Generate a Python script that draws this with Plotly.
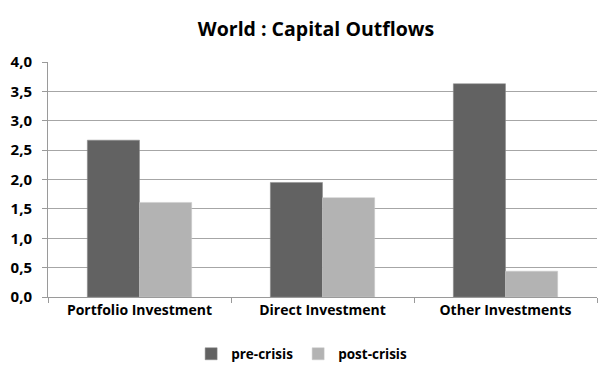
import plotly.graph_objects as go

categories = ["Portfolio Investment", "Direct Investment", "Other Investments"]
pre_crisis = [2.67, 1.95, 3.63]
post_crisis = [1.61, 1.69, 0.44]
tick_vals = [0, 0.5, 1.0, 1.5, 2.0, 2.5, 3.0, 3.5, 4.0]
tick_text = ["0,0", "0,5", "1,0", "1,5", "2,0", "2,5", "3,0", "3,5", "4,0"]

font_family = "Open Sans, Liberation Sans, Arial, sans-serif"

# The page body adds an 8px offset; margins compensate for it.
W, H = 616, 380
fig = go.Figure()
fig.add_trace(go.Bar(name="pre-crisis", x=categories, y=pre_crisis,
                     marker=dict(color="#626262", line=dict(color="#8a8a8a", width=0.5))))
fig.add_trace(go.Bar(name="post-crisis", x=categories, y=post_crisis,
                     marker=dict(color="#b3b3b3", line=dict(color="#c8c8c8", width=0.5))))

fig.update_layout(
    width=W, height=H,
    paper_bgcolor="white", plot_bgcolor="white",
    margin=dict(l=40, r=27, t=54, b=91, autoexpand=False),
    barmode="group", bargap=0.43, bargroupgap=0,
    title=dict(text="<b>World : Capital Outflows</b>", x=0.5, xanchor="center",
               y=1 - 21 / H, yanchor="middle",
               font=dict(family=font_family, size=19.5, color="#000000")),
    font=dict(family=font_family, color="#000000"),
    legend=dict(orientation="h", x=0.462, xanchor="center",
                y=-(346 - 289) / 235, yanchor="middle",
                font=dict(family=font_family, size=13.5, color="#000000", weight="bold"),
                itemwidth=30, traceorder="normal"),
    showlegend=True,
)
fig.update_xaxes(
    automargin=False,
    showline=True, linecolor="#9a9a9a", linewidth=1,
    ticks="outside", tickson="boundaries", ticklen=5, tickcolor="#9a9a9a",
    tickfont=dict(family=font_family, size=14, color="#000000", weight="bold"),
    showgrid=False,
)
fig.update_yaxes(
    automargin=False,
    range=[0, 4.0], tickvals=tick_vals, ticktext=tick_text,
    showline=True, linecolor="#9a9a9a", linewidth=1,
    ticks="outside", ticklen=5, tickcolor="#9a9a9a",
    ticklabelstandoff=7,
    showgrid=True, gridcolor="#a6a6a6", gridwidth=1,
    tickfont=dict(family=font_family, size=15, color="#000000", weight="bold"),
    zeroline=False,
)

fig.write_html("out.html")
